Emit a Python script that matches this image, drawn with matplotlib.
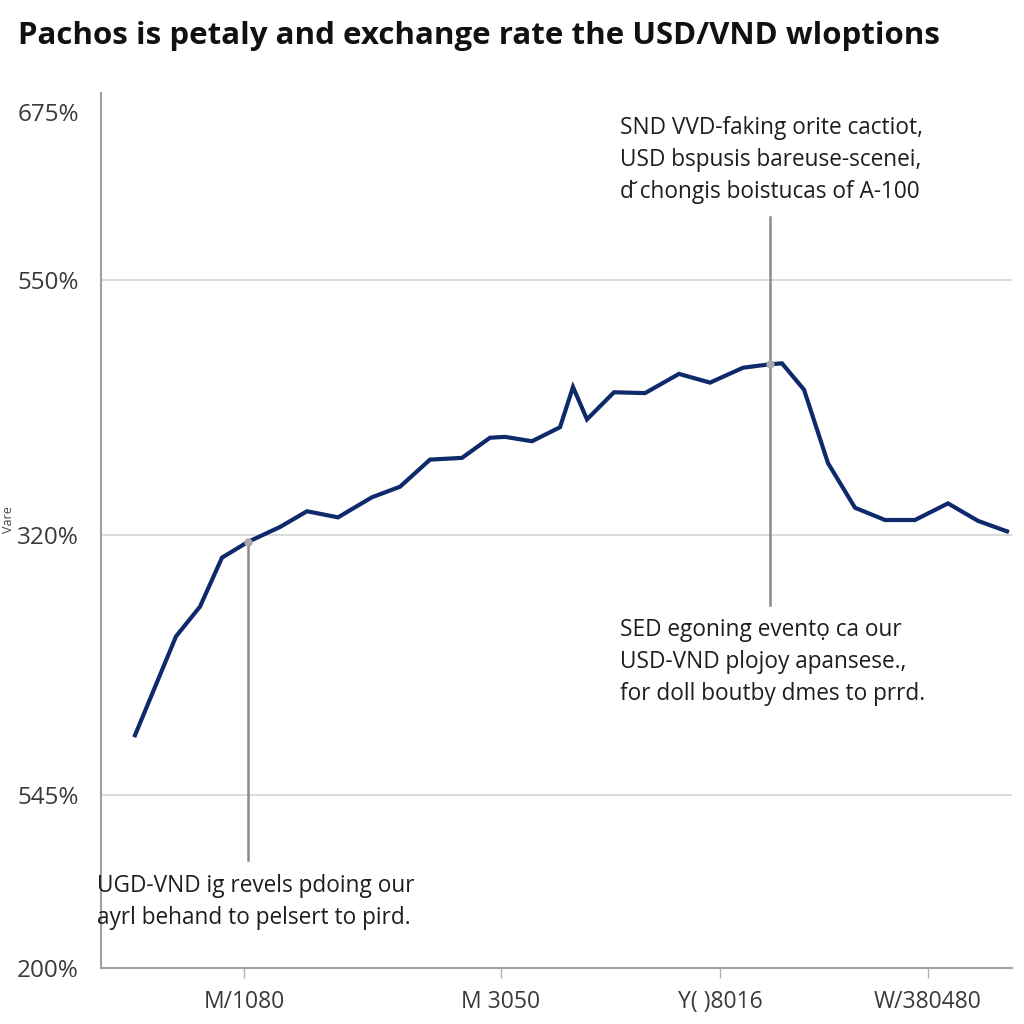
import matplotlib.pyplot as plt

plt.rcParams['font.family'] = ['Open Sans', 'DejaVu Sans']

title = "Pachos is petaly and exchange rate the USD/VND wloptions"

# line (x = period position, y = rate level)
period = [135, 176, 200, 222, 248, 280, 307, 338, 372, 400, 430, 462, 490, 505,
          532, 560, 573, 587, 614, 645, 679, 710, 743, 770, 782, 804, 828, 855,
          885, 915, 948, 978, 1007]
rate = [26.6, 37.9, 41.3, 46.9, 48.7, 50.4, 52.2, 51.5, 53.8, 55.0, 58.1, 58.3,
        60.6, 60.7, 60.2, 61.8, 66.4, 62.7, 65.8, 65.7, 67.9, 66.9, 68.6, 69.0,
        69.1, 66.1, 57.7, 52.6, 51.2, 51.2, 53.1, 51.1, 49.9]

ytick_pos = [0, 19.8, 49.5, 78.6, 97.8]
ytick_lab = ['200%', '545%', '320%', '550%', '675%']
grid_pos = [19.8, 49.5, 78.6]

xtick_pos = [244, 501, 720, 928]
xtick_lab = ['M/1080', 'M 3050', 'Y( )8016', 'W/380480']

# annotation guides: (x, y of marker, y from, y to)
guides = [(248, 48.7, 48.7, 12.3), (770, 69.0, 85.8, 41.5)]

note1 = "SND VVD-faking orite cactiot,\nUSD bspusis bareuse-scenei,\nd\u0306 chongis boistucas of A-100"
note2 = "SED egoning event\u1ecd ca our\nUSD-VND plojoy apansese.,\nfor doll boutby dmes to prrd."
note3 = "UGD-VND ig revels pdoing our\nayrl behand to pelsert to pird."

fig = plt.figure(figsize=(10.24, 10.24), dpi=100)
ax = fig.add_axes([101/1024, 1-968/1024, 911/1024, 875/1024])

for g in grid_pos:
    ax.axhline(g, color='#d4d4d4', lw=1.2, zorder=0)

for gx, gy, y0, y1 in guides:
    ax.plot([gx, gx], [y0, y1], color='#8a8a8a', lw=1.8, zorder=1)

ax.plot(period, rate, color='#0f2a6b', lw=3.0, zorder=2, solid_joinstyle='miter')

for gx, gy, y0, y1 in guides:
    ax.plot(gx, gy, 'o', color='#a8a8a8', ms=5, zorder=3)

ax.set_xlim(101, 1012)
ax.set_ylim(0, 100)
ax.set_yticks(ytick_pos)
ax.set_yticklabels(ytick_lab)
ax.set_xticks(xtick_pos)
ax.set_xticklabels(xtick_lab)
ax.tick_params(axis='y', length=0, pad=16, labelsize=17.5, labelcolor='#3a3a3a')
ax.tick_params(axis='x', length=7, width=1, color='#b0b0b0', pad=9,
               labelsize=16.5, labelcolor='#3a3a3a')

for s in ['top', 'right']:
    ax.spines[s].set_visible(False)
for s in ['left', 'bottom']:
    ax.spines[s].set_color('#a0a0a0')
    ax.spines[s].set_linewidth(1.5)

fig.text(18/1024, 1-36/1024, title, fontsize=22.5, fontweight='bold',
         va='center', ha='left', color='#111111')
fig.text(620/1024, 1-116/1024, note1, fontsize=16.3, va='top', ha='left',
         color='#1e1e1e', linespacing=1.45)
fig.text(620/1024, 1-618/1024, note2, fontsize=16.3, va='top', ha='left',
         color='#1e1e1e', linespacing=1.45)
fig.text(97/1024, 1-874/1024, note3, fontsize=16.3, va='top', ha='left',
         color='#1e1e1e', linespacing=1.45)
fig.text(2/1024, 1-520/1024, 'Vare', fontsize=9, rotation=90, va='center',
         ha='left', color='#444444')

plt.savefig('out.png', dpi=100)
